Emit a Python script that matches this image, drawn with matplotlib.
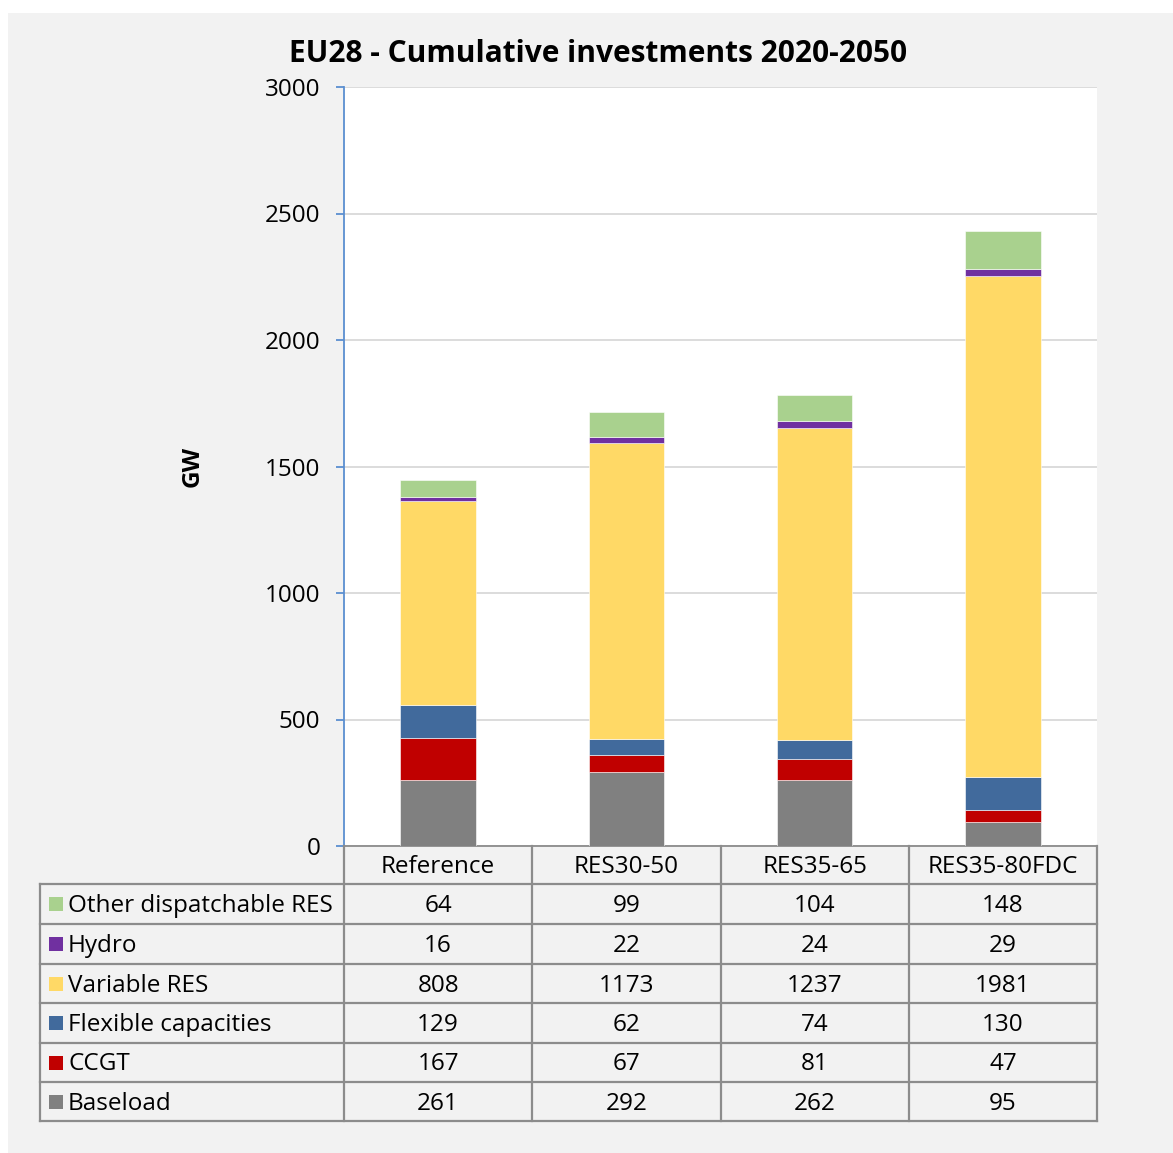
import matplotlib.pyplot as plt
import matplotlib.patches as mpatches
import matplotlib.transforms as mtransforms
import numpy as np

plt.rcParams['font.family'] = ['Open Sans', 'DejaVu Sans']

# chart data
scenarios = ['Reference', 'RES30-50', 'RES35-65', 'RES35-80FDC']
baseload = [261, 292, 262, 95]
ccgt = [167, 67, 81, 47]
flexible = [129, 62, 74, 130]
variable_res = [808, 1173, 1237, 1981]
hydro = [16, 22, 24, 29]
other_disp = [64, 99, 104, 148]

series_names = ['Baseload', 'CCGT', 'Flexible capacities', 'Variable RES', 'Hydro', 'Other dispatchable RES']
series_values = [baseload, ccgt, flexible, variable_res, hydro, other_disp]
series_colors = ['#808080', '#c00000', '#416a9c', '#ffd966', '#7030a0', '#a9d18e']
y_ticks = [0, 500, 1000, 1500, 2000, 2500, 3000]

FS = 17.5
W, H = 1173, 1153
fig = plt.figure(figsize=(W / 100, H / 100), dpi=100, facecolor='white')

# light gray chart background
fig.patches.append(mpatches.Rectangle((8 / W, 0), 1 - 8 / W, 1 - 13 / H, transform=fig.transFigure,
                                      facecolor='#f2f2f2', edgecolor='none', zorder=-10))

ax_left, ax_right = 344, 1097
ax_top, ax_bottom = 87, 846
ax = fig.add_axes([ax_left / W, 1 - ax_bottom / H, (ax_right - ax_left) / W, (ax_bottom - ax_top) / H])
ax.set_facecolor('white')

x = np.arange(len(scenarios))
bottom = np.zeros(len(scenarios))
for vals, col in zip(series_values, series_colors):
    ax.bar(x, vals, width=0.4, bottom=bottom, color=col, edgecolor='white', linewidth=0.4, zorder=3)
    bottom += np.array(vals)

ax.set_xlim(-0.5, len(scenarios) - 0.5)
ax.set_ylim(0, 3000)
ax.set_yticks(y_ticks)
ax.set_yticklabels([str(t) for t in y_ticks], fontsize=FS)
ax.set_xticks([])
ax.yaxis.grid(True, color='#d9d9d9', linewidth=1.3, zorder=0)
for s in ['top', 'right']:
    ax.spines[s].set_visible(False)
ax.spines['bottom'].set_color('#8c8c8c')
ax.spines['bottom'].set_linewidth(1.3)
ax.spines['left'].set_color('#5b8fd0')
ax.spines['left'].set_linewidth(1.3)
ax.tick_params(axis='y', colors='#5b8fd0', length=6, width=1.3, pad=11, labelcolor='black')

fig.text(598 / W, 1 - 54 / H, 'EU28 - Cumulative investments 2020-2050', ha='center', va='center',
         fontsize=21.5, fontweight='bold')
fig.text(193 / W, 1 - 466 / H, 'GW', ha='center', va='center', rotation=90, fontsize=FS, fontweight='bold')

# data table below the plot
blend = mtransforms.blended_transform_factory(ax.transData, fig.transFigure)
line_kw = dict(color='#8c8c8c', linewidth=1.6, zorder=5)
row_edges = [846, 884, 924, 964, 1003, 1043, 1082, 1121]
table_left = 40
col_edges = np.arange(len(scenarios) + 1) - 0.5
text_shift = 2  # px, text sits a little below the row centre

def fy(py):
    return 1 - py / H

# header row with scenario names
for xe in col_edges:
    ax.plot([xe, xe], [fy(row_edges[0]), fy(row_edges[-1])], transform=blend, clip_on=False, **line_kw)
for i, name in enumerate(scenarios):
    fig.text(i, fy((row_edges[0] + row_edges[1]) / 2 + text_shift), name, transform=blend,
             ha='center', va='center', fontsize=FS)

# body rows (legend order: top of stack first)
rows = list(zip(series_names, series_values, series_colors))[::-1]
for yy in row_edges[1:]:
    fig.add_artist(plt.Line2D([table_left / W, ax_right / W], [fy(yy), fy(yy)], transform=fig.transFigure, **line_kw))
fig.add_artist(plt.Line2D([table_left / W, table_left / W], [fy(row_edges[1]), fy(row_edges[-1])],
                          transform=fig.transFigure, **line_kw))
for r, (name, vals, col) in enumerate(rows):
    ymid = (row_edges[r + 1] + row_edges[r + 2]) / 2
    yc = fy(ymid + text_shift)
    fig.patches.append(mpatches.Rectangle((49 / W, fy(ymid + 7)), 14 / W, 14 / H, transform=fig.transFigure,
                                          facecolor=col, edgecolor='none'))
    fig.text(68 / W, yc, name, ha='left', va='center', fontsize=FS)
    for i, v in enumerate(vals):
        fig.text(i, yc, str(v), transform=blend, ha='center', va='center', fontsize=FS)

fig.savefig('out.png', dpi=100, facecolor=fig.get_facecolor())
